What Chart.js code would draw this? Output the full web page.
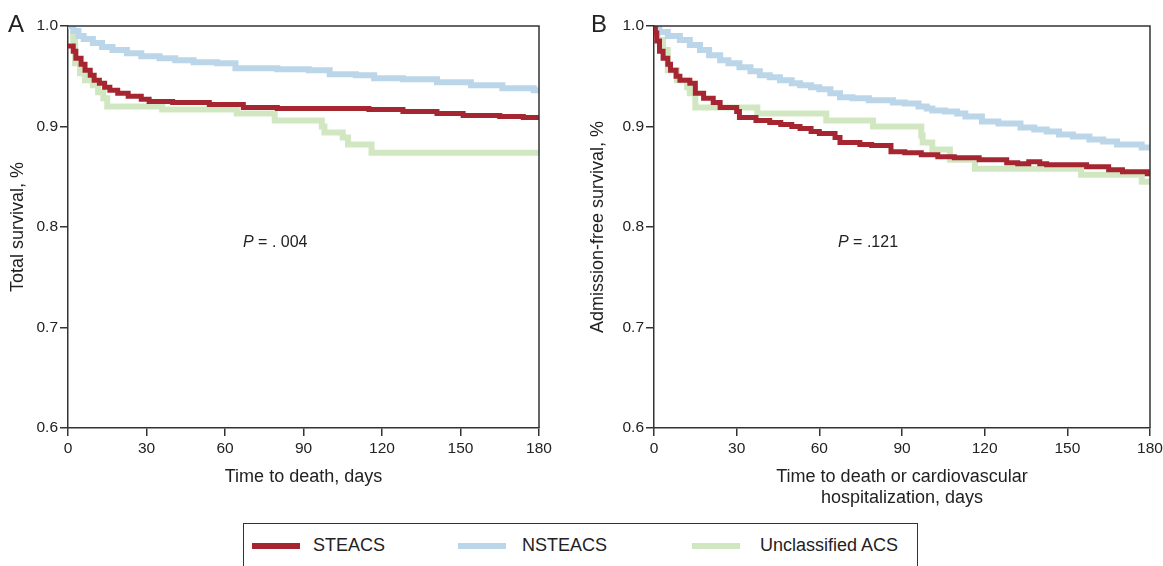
<!DOCTYPE html>
<html>
<head>
<meta charset="utf-8">
<script src="https://cdn.jsdelivr.net/npm/chart.js@4.4.1/dist/chart.umd.min.js"></script>
<style>
  body { margin: 0; width: 1163px; height: 566px; overflow: hidden; background: #fff; position: relative;
         font-family: "Liberation Sans", Arial, sans-serif; color: #222; }
  canvas { position: absolute; top: 0; }
  #chartA { left: 0; }
  #chartB { left: 580px; }
  .panel { position: absolute; font-size: 24px; line-height: 1; top: 12px; }
  .pval { position: absolute; font-size: 16px; line-height: 1; top: 234px; white-space: pre; }
  #legend { position: absolute; left: 243px; top: 523px; width: 675px; height: 60px;
            border: 1.5px solid #333; box-sizing: border-box; }
  .key { position: absolute; top: 543px; width: 48px; height: 6px; }
  .lab { position: absolute; top: 536px; font-size: 18px; line-height: 1; }
</style>
</head>
<body>
<canvas id="chartA" width="570" height="520"></canvas>
<canvas id="chartB" width="600" height="520"></canvas>
<div class="panel" style="left:8px">A</div>
<div class="panel" style="left:591px">B</div>
<div class="pval" style="left:243px"><i>P</i> = . 004</div>
<div class="pval" style="left:838px"><i>P</i> = .121</div>
<div id="legend"></div>
<div class="key" style="left:252px;background:#a52631"></div>
<div class="lab" style="left:313px">STEACS</div>
<div class="key" style="left:458px;background:#bcd6e9"></div>
<div class="lab" style="left:522px">NSTEACS</div>
<div class="key" style="left:692px;background:#d1e7c2"></div>
<div class="lab" style="left:760px">Unclassified ACS</div>
<script>
// series names and colours
const seriesNames = ['STEACS', 'NSTEACS', 'Unclassified ACS'];
const seriesColors = ['#a52631', '#bcd6e9', '#d1e7c2'];
const seriesWidths = [5, 6, 6];

const xTicks = [0, 30, 60, 90, 120, 150, 180];
const yTicks = [0.6, 0.7, 0.8, 0.9, 1.0];

// Panel A - total survival (day of step, survival after step)
const aStDays = [0, 2, 3, 5, 6.5, 8.5, 10, 12, 14, 16, 19, 23, 28, 31, 40, 54, 67, 80, 115, 128, 141, 151, 165, 174, 180];
const aStSurv = [0.980, 0.975, 0.968, 0.962, 0.956, 0.951, 0.946, 0.943, 0.939, 0.936, 0.933, 0.930, 0.927, 0.925, 0.924, 0.922, 0.919, 0.918, 0.917, 0.915, 0.913, 0.911, 0.910, 0.909, 0.908];

const aNsDays = [0, 2, 4, 6, 9.5, 13, 17, 22.5, 28, 35, 41, 48, 57, 64, 80, 92, 100, 110, 117, 128, 141, 154, 166, 178, 180];
const aNsSurv = [1.0, 0.995, 0.990, 0.987, 0.983, 0.979, 0.976, 0.973, 0.970, 0.968, 0.966, 0.964, 0.963, 0.958, 0.957, 0.956, 0.952, 0.951, 0.948, 0.947, 0.944, 0.941, 0.938, 0.936, 0.935];

const aUnDays = [0, 2, 2.7, 4.6, 6.5, 9.5, 11.5, 13.5, 15, 36, 64.5, 79, 97, 98, 105, 107, 116, 180];
const aUnSurv = [1.0, 0.986, 0.963, 0.953, 0.946, 0.941, 0.934, 0.928, 0.920, 0.917, 0.913, 0.906, 0.900, 0.894, 0.889, 0.882, 0.874, 0.874];

// Panel B - admission-free survival
const bStDays = [0, 0.5, 1, 2, 3.3, 5, 6, 8, 9.4, 13, 15, 18, 21.5, 24, 30, 31, 37, 42, 46, 50, 53, 57, 60, 65.7, 67.5, 74.7, 79, 86, 91, 97, 103, 109, 118, 128, 132, 136, 140, 142.5, 157, 165, 170, 179, 180];
const bStSurv = [1.0, 0.993, 0.985, 0.975, 0.968, 0.962, 0.956, 0.950, 0.946, 0.943, 0.933, 0.928, 0.924, 0.919, 0.915, 0.909, 0.906, 0.904, 0.902, 0.900, 0.898, 0.895, 0.893, 0.889, 0.884, 0.882, 0.881, 0.875, 0.874, 0.872, 0.870, 0.869, 0.867, 0.864, 0.863, 0.865, 0.863, 0.862, 0.860, 0.857, 0.855, 0.853, 0.851];

const bNsDays = [0, 2, 5, 9.4, 13, 16.7, 20, 24, 27, 31, 35, 38.4, 42, 45.7, 50, 53, 57, 60, 64, 67.5, 72, 78, 86.7, 91, 96, 99, 101, 105.6, 110, 113, 119, 125, 133, 138, 142.5, 147, 152, 158, 163, 168, 177, 180];
const bNsSurv = [1.0, 0.994, 0.990, 0.986, 0.981, 0.976, 0.971, 0.966, 0.963, 0.959, 0.955, 0.951, 0.949, 0.946, 0.943, 0.941, 0.939, 0.937, 0.933, 0.929, 0.928, 0.926, 0.924, 0.923, 0.920, 0.918, 0.916, 0.915, 0.913, 0.910, 0.905, 0.903, 0.899, 0.897, 0.895, 0.892, 0.890, 0.887, 0.885, 0.882, 0.879, 0.876];

const bUnDays = [0, 1.4, 3.3, 5, 8.3, 12, 13, 15, 37.5, 62.5, 79.5, 97, 97.5, 101, 107.4, 116.5, 155, 177, 180];
const bUnSurv = [1.0, 0.986, 0.976, 0.956, 0.946, 0.939, 0.933, 0.919, 0.913, 0.906, 0.900, 0.891, 0.884, 0.877, 0.867, 0.858, 0.852, 0.845, 0.845];

const FONT = '"Liberation Sans", Arial, sans-serif';

function toPts(days, surv) {
    return days.map((d, i) => ({ x: d, y: surv[i] }));
}

function makeDatasets(list) {
    return list.map((pair, i) => ({
        label: seriesNames[i],
        data: toPts(pair[0], pair[1]),
        borderColor: seriesColors[i],
        borderWidth: seriesWidths[i],
        stepped: 'before',
        pointRadius: 0,
        fill: false
    }));
}

// top and right edges of the plot box
const frame = {
    id: 'frame',
    afterDraw(chart) {
        const { ctx, chartArea: a } = chart;
        ctx.save();
        ctx.strokeStyle = '#333';
        ctx.lineWidth = 1.5;
        ctx.beginPath();
        ctx.moveTo(a.left, a.top);
        ctx.lineTo(a.right, a.top);
        ctx.lineTo(a.right, a.bottom);
        ctx.stroke();
        ctx.restore();
    }
};

function makeOptions(yTitle, xTitle, yWidth, padRight, xTitlePad) {
    const grid = { drawOnChartArea: false, drawTicks: true, tickLength: 8, color: '#333', lineWidth: 1.5 };
    const border = { display: true, color: '#333', width: 1.5 };
    return {
        responsive: false,
        animation: false,
        events: [],
        layout: { padding: { top: 26, right: padRight, left: 0, bottom: 0 } },
        plugins: { legend: { display: false }, tooltip: { enabled: false } },
        scales: {
            x: {
                type: 'linear',
                min: 0,
                max: 180,
                afterBuildTicks: s => { s.ticks = xTicks.map(v => ({ value: v })); },
                ticks: { padding: 3, color: '#222', maxRotation: 0, font: { size: 15.5, family: FONT } },
                grid: grid,
                border: border,
                title: { display: true, text: xTitle, color: '#222', font: { size: 18, family: FONT, lineHeight: 1.17 },
                         padding: { top: 0, bottom: xTitlePad } },
                afterFit: s => { s.height = 92; }
            },
            y: {
                min: 0.6,
                max: 1.0,
                afterBuildTicks: s => { s.ticks = yTicks.map(v => ({ value: v })); },
                ticks: { padding: 2, color: '#222', font: { size: 15.5, family: FONT },
                         callback: v => v.toFixed(1) },
                grid: grid,
                border: border,
                title: { display: true, text: yTitle, color: '#222', font: { size: 18, family: FONT, lineHeight: 1.17 },
                         padding: { top: 7.5, bottom: 0 } },
                afterFit: s => { s.width = yWidth; }
            }
        }
    };
}

new Chart(document.getElementById('chartA'), {
    type: 'line',
    data: { datasets: makeDatasets([[aStDays, aStSurv], [aNsDays, aNsSurv], [aUnDays, aUnSurv]]) },
    options: makeOptions('Total survival, %', 'Time to death, days', 68, 31, 32.5),
    plugins: [frame]
});

new Chart(document.getElementById('chartB'), {
    type: 'line',
    data: { datasets: makeDatasets([[bStDays, bStSurv], [bNsDays, bNsSurv], [bUnDays, bUnSurv]]) },
    options: makeOptions('Admission-free survival, %', ['Time to death or cardiovascular', 'hospitalization, days'], 74, 30, 11.5),
    plugins: [frame]
});
</script>
</body>
</html>
